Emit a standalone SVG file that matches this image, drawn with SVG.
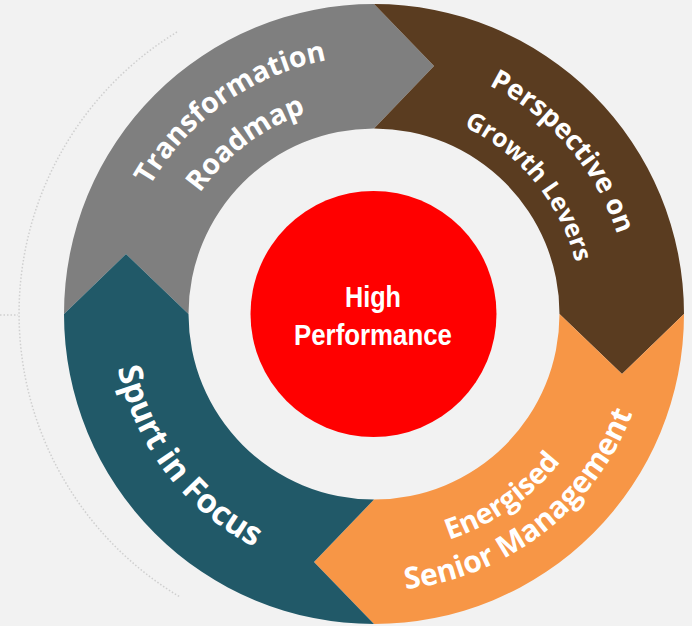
<svg xmlns="http://www.w3.org/2000/svg" width="692" height="626" viewBox="0 0 692 626">
<style>
.lbl{font-family:"Open Sans","DejaVu Sans",sans-serif;font-weight:700;fill:#ffffff;text-anchor:middle}
.ctr{font-family:"Liberation Sans",Arial,sans-serif;font-weight:700;fill:#ffffff;text-anchor:middle;font-size:29px}
.dot{fill:none;stroke:#cfcfcf;stroke-width:1.5;stroke-dasharray:1.5 2}
</style>
<defs>
<path id="pTrans" d="M140.95 424.66 A258 258 0 0 1 555.17 130.30"/>
<path id="pRoad" d="M185.10 410.25 A212 212 0 0 1 518.58 158.95"/>
<path id="pPersp" d="M243.31 93.87 A256 256 0 0 1 572.09 476.15"/>
<path id="pGrowth" d="M271.89 132.79 A208 208 0 0 1 531.93 449.37"/>
<path id="pSpurt" d="M181.14 136.65 A262 262 0 0 0 494.57 546.60"/>
<path id="pEnerg" d="M205.71 482.29 A238 238 0 0 0 589.70 213.42"/>
<path id="pSenior" d="M187.94 519.20 A277 277 0 0 0 619.03 184.81"/>
</defs>
<rect width="692" height="626" fill="#f2f2f2"/>
<g id="decor">
<path class="dot" d="M177 32 A330 330 0 0 0 180 597"/>
<path class="dot" d="M0 315 H18"/>
</g>
<g id="connectors"></g>
<g id="seg-transformation">
<path fill="#7f7f7f" d="M64 314 A310 310 0 0 1 374 4 L434 66 L374 128.5 A185.5 185.5 0 0 0 188.5 314 L126 254 Z"/>
<text class="lbl" font-size="28.5"><textPath href="#pTrans" startOffset="50%">Transformation</textPath></text>
<text class="lbl" font-size="28.5"><textPath href="#pRoad" startOffset="50%">Roadmap</textPath></text>
</g>
<g id="seg-perspective">
<path fill="#5a3c20" d="M374 4 A310 310 0 0 1 684 314 L622 374 L559.5 314 A185.5 185.5 0 0 0 374 128.5 L434 66 Z"/>
<text class="lbl" font-size="27.5"><textPath href="#pPersp" startOffset="50%">Perspective on</textPath></text>
<text class="lbl" font-size="25"><textPath href="#pGrowth" startOffset="50%">Growth Levers</textPath></text>
</g>
<g id="seg-energised">
<path fill="#f79646" d="M684 314 A310 310 0 0 1 374 624 L314 562 L374 499.5 A185.5 185.5 0 0 0 559.5 314 L622 374 Z"/>
<text class="lbl" font-size="28.5"><textPath href="#pEnerg" startOffset="50%">Energised</textPath></text>
<text class="lbl" font-size="30"><textPath href="#pSenior" startOffset="50%">Senior Management</textPath></text>
</g>
<g id="seg-spurt">
<path fill="#215968" d="M374 624 A310 310 0 0 1 64 314 L126 254 L188.5 314 A185.5 185.5 0 0 0 374 499.5 L314 562 Z"/>
<text class="lbl" font-size="33"><textPath href="#pSpurt" startOffset="50%">Spurt in Focus</textPath></text>
</g>
<g id="center">
<circle cx="373.5" cy="314" r="123" fill="#ff0000"/>
<text class="ctr" x="373" y="306.7" textLength="56" lengthAdjust="spacingAndGlyphs">High</text>
<text class="ctr" x="373" y="345" textLength="158" lengthAdjust="spacingAndGlyphs">Performance</text>
</g>
</svg>
